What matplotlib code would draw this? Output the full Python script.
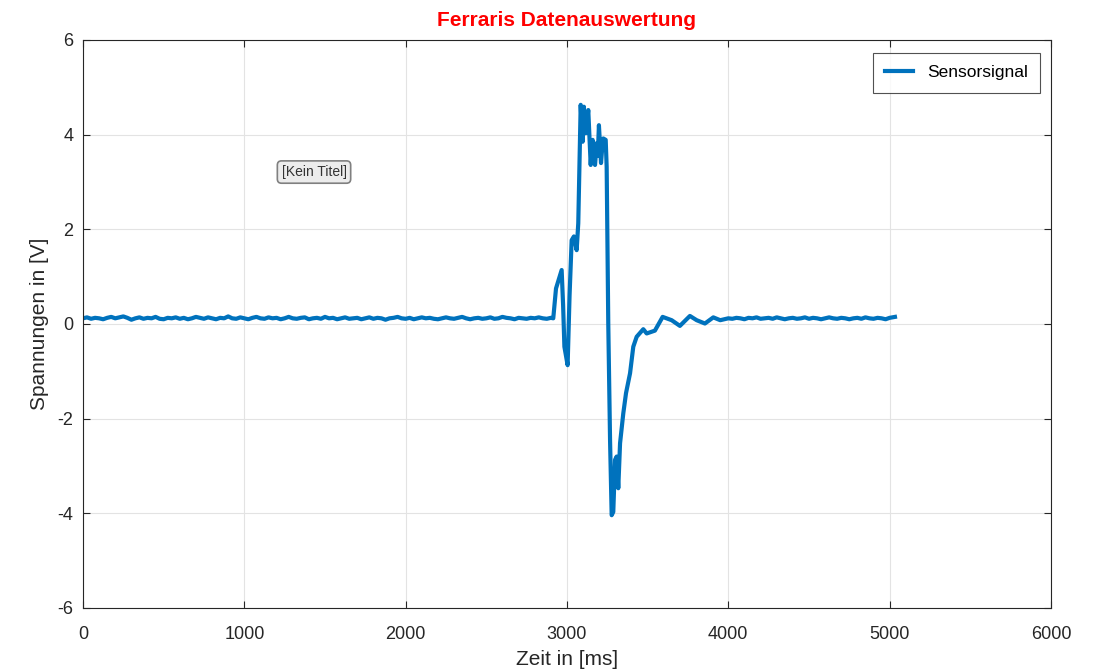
import numpy as np
import matplotlib.pyplot as plt

plt.rcParams['font.family'] = ['Liberation Sans', 'DejaVu Sans']
plt.rcParams['axes.unicode_minus'] = False

t_vor = list(range(0, 2925, 25))
u_vor = [0.12, 0.14, 0.11, 0.13, 0.12, 0.10, 0.13, 0.15, 0.12, 0.14,
         0.16, 0.13, 0.09, 0.12, 0.14, 0.11, 0.13, 0.12, 0.15, 0.11,
         0.10, 0.13, 0.12, 0.14, 0.11, 0.13, 0.10, 0.12, 0.15, 0.13,
         0.11, 0.14, 0.12, 0.10, 0.13, 0.12, 0.16, 0.12, 0.11, 0.14,
         0.12, 0.10, 0.13, 0.15, 0.12, 0.11, 0.14, 0.12, 0.13, 0.10,
         0.12, 0.15, 0.12, 0.11, 0.13, 0.14, 0.10, 0.12, 0.13, 0.11,
         0.15, 0.12, 0.13, 0.10, 0.12, 0.14, 0.11, 0.12, 0.13, 0.10,
         0.12, 0.14, 0.11, 0.13, 0.12, 0.09, 0.12, 0.13, 0.15, 0.12,
         0.11, 0.13, 0.10, 0.12, 0.14, 0.12, 0.13, 0.11, 0.10, 0.12,
         0.14, 0.12, 0.11, 0.13, 0.15, 0.12, 0.10, 0.12, 0.13, 0.11,
         0.12, 0.14, 0.11, 0.12, 0.15, 0.13, 0.12, 0.10, 0.13, 0.12,
         0.11, 0.13, 0.12, 0.14, 0.12, 0.11, 0.13]

# Impuls
t_imp = [2915, 2932, 2950, 2967, 2976, 2984, 3004, 3016, 3029, 3043, 3060,
         3070, 3085, 3091, 3097, 3105, 3110, 3116, 3132, 3147, 3153, 3159,
         3166, 3174, 3184, 3191, 3198, 3211, 3218, 3225, 3240, 3246, 3256,
         3267, 3277, 3287, 3298, 3308, 3318, 3329, 3349, 3366, 3391, 3411,
         3432, 3473, 3494, 3545, 3593, 3649, 3700, 3762, 3804, 3855, 3907,
         3950]
u_imp = [0.12, 0.75, 0.95, 1.14, 0.40, -0.48, -0.87, 0.60, 1.77, 1.85, 1.56,
         2.13, 4.63, 4.20, 3.85, 4.59, 4.10, 4.03, 4.52, 3.36, 3.70, 3.89,
         3.45, 3.36, 3.82, 3.55, 4.20, 3.40, 3.70, 3.92, 3.89, 3.32, 0.00,
         -2.45, -4.04, -3.97, -2.87, -2.80, -3.47, -2.52, -1.89, -1.46, -1.04,
         -0.48, -0.27, -0.11, -0.20, -0.14, 0.15, 0.08, -0.04, 0.17, 0.08,
         0.01, 0.14, 0.08]

# Ruhepegel nach dem Impuls
t_nach = list(range(3975, 5050, 25))
u_nach = [0.10, 0.12, 0.11, 0.13, 0.12, 0.10, 0.13, 0.12, 0.14, 0.11,
          0.12, 0.13, 0.11, 0.14, 0.12, 0.10, 0.12, 0.13, 0.11, 0.12,
          0.14, 0.11, 0.13, 0.12, 0.10, 0.12, 0.14, 0.12, 0.11, 0.13,
          0.12, 0.10, 0.12, 0.13, 0.11, 0.14, 0.12, 0.11, 0.13, 0.12,
          0.10, 0.13, 0.15]
t_nach[-1] = 5033

zeit = t_vor + t_imp + t_nach
spannung = u_vor + u_imp + u_nach

fig = plt.figure(figsize=(11.05, 6.71), dpi=100)
ax = fig.add_axes([0.0751, 0.0939, 0.876, 0.8465])

ax.plot(zeit, spannung, color='#0072BD', linewidth=3.0, label='Sensorsignal')

ax.set_xlim(0, 6000)
ax.set_ylim(-6, 6)
ax.set_xticks(np.arange(0, 6001, 1000))
ax.set_yticks(np.arange(-6, 7, 2))
ax.grid(True, color='#e3e3e3', linewidth=0.8)
ax.set_axisbelow(True)
ax.tick_params(direction='in', top=True, right=True, labelsize=13,
               colors='#262626', length=5)
ax.tick_params(axis='x', pad=13)
ax.tick_params(axis='y', pad=7)
for s in ax.spines.values():
    s.set_color('#262626')
    s.set_linewidth(0.8)

ax.set_xlabel('Zeit in [ms]', fontsize=15, color='#262626', labelpad=5)
ax.set_ylabel('Spannungen in [V]', fontsize=15, color='#262626', labelpad=6)
ax.set_title('Ferraris Datenauswertung', fontsize=15, fontweight='bold',
             color='#ff0000', pad=10)

ax.text(1432, 3.21, '[Kein Titel]', fontsize=10, color='#333333',
        ha='center', va='center',
        bbox=dict(boxstyle='round,pad=0.3', facecolor='#ececec',
                  edgecolor='#808080', linewidth=1.2))

leg = ax.legend(loc='upper right', fontsize=12.5, fancybox=False,
                handlelength=1.6, borderpad=0.7, borderaxespad=0,
                bbox_to_anchor=(0.9886, 0.977))
leg.get_frame().set_edgecolor('#262626')
leg.get_frame().set_linewidth(0.8)

fig.savefig('out.png', dpi=100)
